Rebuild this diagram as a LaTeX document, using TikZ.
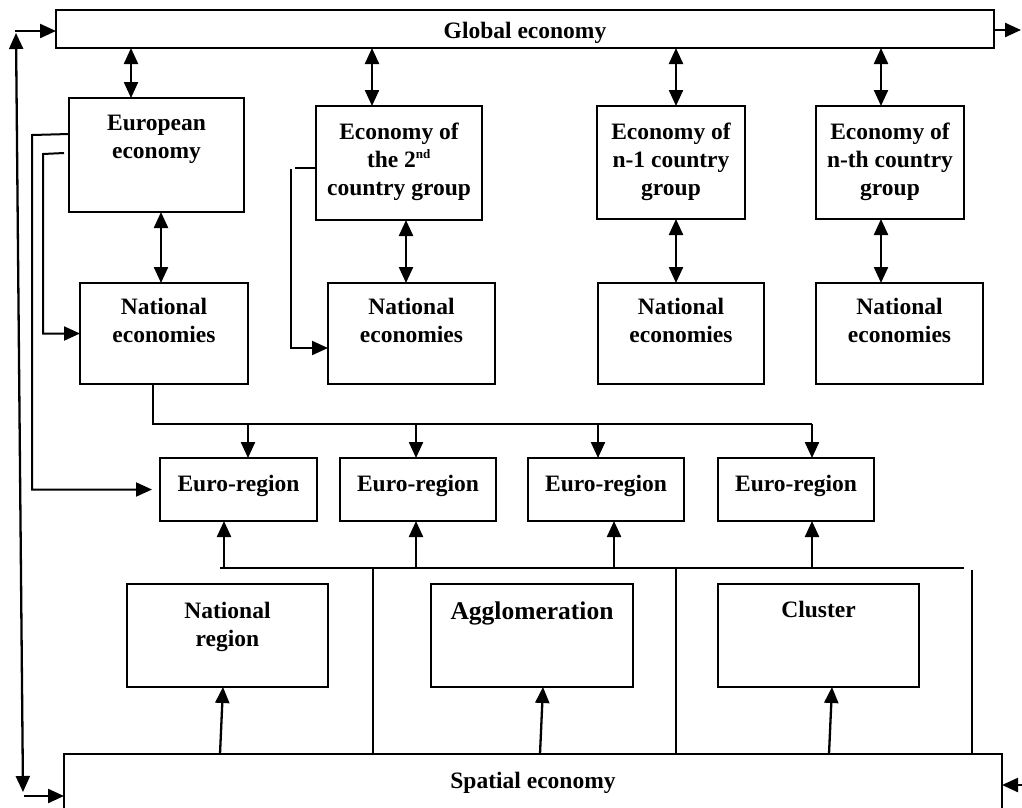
\documentclass[tikz,border=0pt]{standalone}
\usepackage{fontspec}
\setmainfont{Liberation Serif}
\usetikzlibrary{arrows.meta,calc}
\begin{document}
\begin{tikzpicture}[x=1pt,y=-1pt,
  box/.style={draw, line width=2pt, anchor=north west, inner sep=0pt, outer sep=0pt},
  lbl/.style={anchor=north, inner sep=0pt, align=center, font=\fontsize{23.5}{28}\selectfont\bfseries},
  biglbl/.style={lbl, font=\fontsize{25.5}{30}\selectfont\bfseries},
  conn/.style={line width=2.3pt},
  wire/.style={line width=2pt},
  head/.tip={Triangle[length=16pt,width=14pt]},
  tip/.style={conn, -head},
  both/.style={conn, head-head}]

\clip (0,0) rectangle (1022,807);

% ---------- boxes ----------
\node[box, minimum width=938, minimum height=38.5] (glob) at (56,9.5) {};
\node[box, minimum width=175, minimum height=114] (eu)   at (69,98)   {};
\node[box, minimum width=166, minimum height=114] (ec2)  at (316,106) {};
\node[box, minimum width=148, minimum height=113] (ecn1) at (597,106) {};
\node[box, minimum width=148, minimum height=113] (ecn)  at (816,106) {};
\node[box, minimum width=168, minimum height=101] (nat1) at (80,283)  {};
\node[box, minimum width=167, minimum height=101] (nat2) at (328,283) {};
\node[box, minimum width=166, minimum height=101] (nat3) at (598,283) {};
\node[box, minimum width=167, minimum height=101] (nat4) at (816,283) {};
\node[box, minimum width=157, minimum height=63]  (er1)  at (160,458) {};
\node[box, minimum width=156, minimum height=63]  (er2)  at (340,458) {};
\node[box, minimum width=156, minimum height=63]  (er3)  at (528,458) {};
\node[box, minimum width=156, minimum height=63]  (er4)  at (718,458) {};
\node[box, minimum width=201, minimum height=103] (nreg) at (127,584) {};
\node[box, minimum width=202, minimum height=103] (agg)  at (431,584) {};
\node[box, minimum width=201, minimum height=103] (clu)  at (718,584) {};
\node[box, minimum width=938, minimum height=80]  (spat) at (64,754)  {};

% ---------- texts ----------
\node[lbl] (glob-t) at ([yshift=-12.5pt]glob.north) {Global economy};
\node[lbl] (eu-t)   at ([yshift=-17pt]eu.north)   {European\\economy};
\node[lbl] (ec2-t)  at ([yshift=-17pt]ec2.north)  {Economy of\\the 2\textsuperscript{\fontsize{13}{13}\selectfont nd}\\country group};
\node[lbl] (ecn1-t) at ([yshift=-17pt]ecn1.north) {Economy of\\n-1 country\\group};
\node[lbl] (ecn-t)  at ([yshift=-17pt]ecn.north)  {Economy of\\n-th country\\group};
\foreach \n in {nat1,nat2,nat3,nat4}
  \node[lbl] (\n-t) at ([yshift=-15pt]\n.north) {National\\economies};
\foreach \n in {er1,er2,er3,er4}
  \node[lbl] (\n-t) at ([yshift=-17pt]\n.north) {Euro-region};
\node[lbl]    (nreg-t) at ([yshift=-18pt]nreg.north) {National\\region};
\node[biglbl] (agg-t)  at ([yshift=-18pt]agg.north)  {Agglomeration};
\node[lbl]    (clu-t)  at ([yshift=-17pt]clu.north)  {Cluster};
\node[lbl]    (spat-t) at ([yshift=-18pt]spat.north) {Spatial economy};

% ---------- helper points ----------
\coordinate (a1) at (131,0);  \coordinate (a2) at (372,0);
\coordinate (a3) at (676,0);  \coordinate (a4) at (881,0);
\coordinate (b1) at (161,0);  \coordinate (b2) at (406,0);
\coordinate (d1) at (248,424); \coordinate (d2) at (416,424);
\coordinate (d3) at (598,424); \coordinate (d4) at (812,424);
\coordinate (u1) at (224,568); \coordinate (u2) at (416,568);
\coordinate (u3) at (614,568); \coordinate (u4) at (812,568);
\coordinate (ul) at (220,568); \coordinate (ur) at (964,568);
\coordinate (v1) at (373,568); \coordinate (v2) at (676,568);
\coordinate (v3) at (972,570);
\coordinate (s1) at (220,0); \coordinate (s1t) at (223,0);
\coordinate (s2) at (540,0); \coordinate (s2t) at (543,0);
\coordinate (s3) at (829,0); \coordinate (s3t) at (832,0);
\coordinate (lt) at (16,33);  \coordinate (lb) at (23,792);
\coordinate (ht) at (15,31);  \coordinate (hb) at (24,796);
\coordinate (rt) at (1021,30); \coordinate (rb) at (1022,785);

% ---------- global economy links ----------
\draw[both] (glob.south -| a1) -- (eu.north -| a1);
\draw[both] (glob.south -| a2) -- (ec2.north -| a2);
\draw[both] (glob.south -| a3) -- (ecn1.north -| a3);
\draw[both] (glob.south -| a4) -- (ecn.north -| a4);

% ---------- group economy to national economies ----------
\draw[both] (eu.south -| b1)   -- (nat1.north -| b1);
\draw[both] (ec2.south -| b2)  -- (nat2.north -| b2);
\draw[both] (ecn1.south -| a3) -- (nat3.north -| a3);
\draw[both] (ecn.south -| a4)  -- (nat4.north -| a4);

% ---------- side feeds from the European economy and the 2nd group ----------
\draw[wire, -head]
  ([yshift=-36pt]eu.north west) -- (32,135) |- ([xshift=-8pt]er1.west);
\draw[wire, -head]
  ([xshift=-5pt,yshift=-55pt]eu.north west) -- (43,154) |- (nat1.west);
\draw[wire] ([yshift=-62pt]ec2.north west) -- ++(-21,0);
\draw[wire, -head]
  (291,169) |- ([yshift=-65pt]nat2.north west);

% ---------- national economies to euro-regions ----------
\draw[wire] ([xshift=-11pt]nat1.south) |- (d4);
\draw[tip] (d1) -- (er1.north -| d1);
\draw[tip] (d2) -- (er2.north -| d2);
\draw[tip] (d3) -- (er3.north -| d3);
\draw[tip] (d4) -- (er4.north -| d4);

% ---------- regional level to euro-regions ----------
\draw[wire] (ul) -- (ur);
\draw[tip] (u1) -- (er1.south -| u1);
\draw[tip] (u2) -- (er2.south -| u2);
\draw[tip] (u3) -- (er3.south -| u3);
\draw[tip] (u4) -- (er4.south -| u4);
\draw[wire] (v1) -- (spat.north -| v1);
\draw[wire] (v2) -- (spat.north -| v2);
\draw[wire] (v3) -- (spat.north -| v3);

% ---------- spatial economy to regional units ----------
\draw[tip] (spat.north -| s1) -- (nreg.south -| s1t);
\draw[tip] (spat.north -| s2) -- (agg.south -| s2t);
\draw[tip] (spat.north -| s3) -- (clu.south -| s3t);

% ---------- outer loop ----------
\draw[both] (lt) -- (lb);
\draw[tip] (ht) -- (glob.west |- ht);
\draw[tip] (hb) -- (spat.west |- hb);
\draw[tip] (glob.east |- rt) -- (rt);
\draw[tip] (rb) -- (spat.east |- rb);
\end{tikzpicture}
\end{document}
